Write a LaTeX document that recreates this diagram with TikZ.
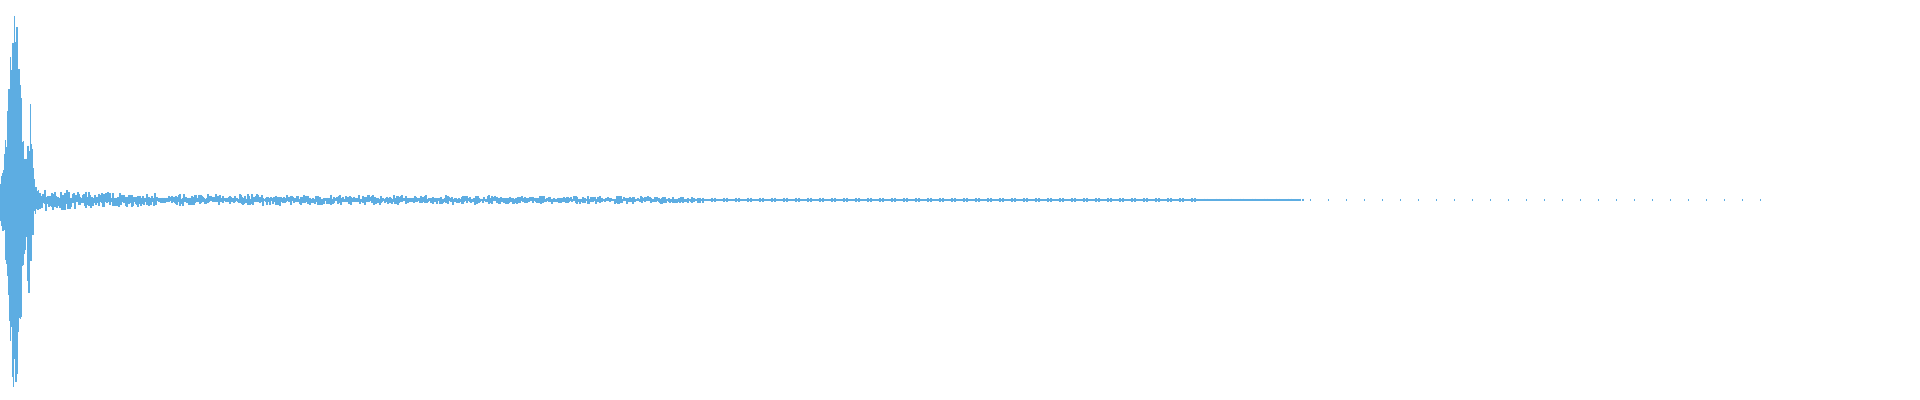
\documentclass[tikz,border=0pt]{standalone}
\definecolor{wave}{RGB}{93,173,226}
\begin{document}
\begin{tikzpicture}[x=0.01cm,y=-0.01cm,wv/.style={draw=wave,line width=0.012cm}]
\useasboundingbox (0,0) rectangle (1920,400);
\pgfmathsetseed{7}
\coordinate (b0) at (0,200);
\coordinate (b1) at (1300,200);
\draw[wv] (b0) -- (b1);
% main burst
\foreach \x in {0,0.5,...,40}{
  \pgfmathsetmacro\e{185*exp(-((\x-15)/8)^2)+20*exp(-((\x-4)/2)^2)+90*exp(-((\x-30)/3)^2)+12}
  \pgfmathsetmacro\a{\e*(0.3+0.7*rnd)}
  \pgfmathsetmacro\b{\e*(0.3+0.7*rnd)}
  \draw[wv] (\x,200-\a) -- (\x,200+\b);
}
% tail
\foreach \x in {40,41,...,700}{
  \pgfmathsetmacro\e{3+5*exp(-(\x-40)/60)+4*(1-\x/800)}
  \pgfmathsetmacro\a{\e*(0.2+0.8*rnd^2)}
  \pgfmathsetmacro\b{\e*(0.2+0.8*rnd^2)}
  \draw[wv] (\x,200-\a) -- (\x,200+\b);
}
% blips
\foreach \x in {700,712,...,1300}{
  \pgfmathsetmacro\h{2.5-1.2*(\x-700)/600}
  \draw[wv] (\x,200-\h) -- (\x,200+\h) (\x+3,200-\h) -- (\x+3,200+\h);
}
\foreach \x in {1310,1328,...,1775}{
  \fill[wave] (\x,199.3) rectangle (\x+1.2,200.7);
}
\end{tikzpicture}
\end{document}
